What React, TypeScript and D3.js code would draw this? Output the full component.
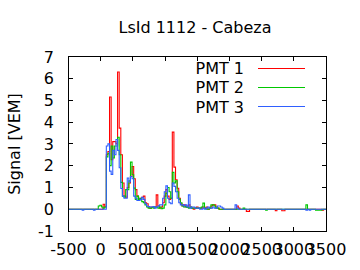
import React from "react";
import * as d3 from "d3";

// Time bins: 25 ns wide, centred on -500, -475, ..., 3500
const binStart = -500;
const binWidth = 25;

const xTicks = [-500, 0, 500, 1000, 1500, 2000, 2500, 3000, 3500];
const yTicks = [-1, 0, 1, 2, 3, 4, 5, 6, 7];

const seriesNames = ["PMT 1", "PMT 2", "PMT 3"];
const seriesColors = ["#ff0000", "#00c800", "#2f5fff"];

// PMT 1 (red), bins k = -20 .. 140
const pmt1 = [
  0, 0, 0, 0, 0, 0, 0, 0, 0, 0, 0, 0, 0, 0, 0, 0, 0, 0, 0, 0,
  0, 0, 0.23, 0.1, 2.5, 2.65, 5.15, 2.27, 3.1, 3.1, 3.0, 6.3, 3.72, 2.5, 1.2, 0.6, 0.55, 1.0, 1.2, 1.5,
  1.96, 1.4, 0.9, 0.6, 0.5, 0.45, 0.55, 0.6, 0.3, 0.25, 0.1, 0.05, 0.1, 0.1, 0.1, 0.66, 0.15, 0.05, 0.1, 0.3,
  0.6, 0.9, 0.6, 0.45, 0.5, 3.54, 1.93, 1.35, 0.96, 0.5, 0.25, 0.15, 0.2, 0.1, 0.15, 0.2, 0.1, 0.05, 0, 0.05,
  0.1, 0.05, 0.05, 0.05, 0.1, 0.05, 0.1, 0, 0.05, 0.15, 0.2, 0.2, 0.1, 0.05, 0, 0, 0, 0, 0, 0,
  0, 0, 0, 0, 0, 0.15, 0.05, 0, 0, 0, 0, -0.1, -0.1, 0, 0, 0, 0, 0, 0, 0,
  0, 0, 0, 0, 0, 0, 0, 0, 0, -0.07, 0, 0, 0, -0.07, -0.07, 0, 0, 0, 0, 0,
  0, 0, 0, 0, 0, 0, 0, 0, 0, 0, 0, 0, 0, 0, 0, 0, 0, 0, -0.05, 0, 0,
];

// PMT 2 (green)
const pmt2 = [
  0, 0, 0, 0, 0, 0, 0, 0, 0, 0, 0, 0, 0, 0, 0, 0, 0, 0, 0, 0.15,
  0.18, 0.1, 0.05, 0.1, 2.4, 2.57, 2.0, 2.9, 2.35, 2.9, 2.9, 3.3, 2.5, 1.23, 0.6, 0.55, 0.9, 0.9, 1.3, 2.16,
  1.58, 0.97, 0.45, 0.6, 0.45, 0.5, 0.35, 0.3, 0.2, 0.1, 0.05, 0.05, 0.08, 0.05, 0.1, 0.1, 0.05, 0.1, 0.02, 0.05,
  0.2, 0.74, 1.0, 0.8, 0.5, 1.69, 1.2, 1.3, 0.8, 0.45, 0.3, 0.15, 0.1, 0.12, 0.08, 0.05, 0.1, 0.05, 0.05, 0.05,
  0.05, 0.05, 0.05, 0.1, 0.28, 0.05, 0, 0, 0.05, 0.2, 0.2, 0.15, 0.05, 0.05, 0, 0, 0, 0, 0, 0,
  0, 0, 0, 0, 0, 0, 0, 0, 0, 0.05, 0, 0, 0, 0, 0, 0, 0, 0, 0, 0,
  0, 0, 0, -0.05, 0, 0, 0, 0, 0, 0, 0, 0, 0, 0, 0, 0, 0, 0, 0, 0,
  0, 0, 0, 0, 0, 0, 0, 0, 0.2, 0, 0, 0, 0, 0, -0.04, -0.04, -0.04, -0.04, 0, 0, 0,
];

// PMT 3 (blue)
const pmt3 = [
  0, 0, 0, 0, 0, 0, 0, 0, 0, -0.05, 0, 0, 0, 0, 0, 0, -0.05, 0, 0, 0,
  0, 0, 0, 0, 2.9, 3.0, 1.75, 1.6, 2.7, 2.5, 3.2, 2.7, 1.9, 0.95, 0.6, 0.5, 0.5, 1.43, 1.25, 1.5,
  1.4, 0.6, 0.5, 0.4, 0.4, 0.45, 0.55, 0.45, 0.25, 0.15, 0.12, 0.1, 0.1, 0.12, 0.05, 0.1, 0.15, 0.2, 0.2, 0.5,
  0.8, 1.07, 0.5, 0.3, 0.25, 1.2, 1.05, 0.8, 0.5, 0.3, 0.2, 0.2, 0.15, 0.2, 0.1, 0.66, 0.05, 0.1, 0.1, 0.05,
  0.05, 0.05, 0, 0, 0.05, 0, 0.05, 0.1, 0.05, 0.05, 0.1, 0.05, 0.05, 0.15, 0.15, 0.1, 0.05, 0, 0, 0,
  0, 0, 0, 0, 0.2, 0.05, 0, 0, 0, 0, 0, 0, 0, 0, 0, 0, 0, 0, 0, 0,
  0, 0, 0, 0, 0, 0, 0, 0, 0, 0, 0, 0, 0, 0, 0, 0, 0, 0, 0, 0,
  0, 0, 0, 0, 0, 0, 0, 0, -0.05, 0, -0.05, 0, 0, 0, 0, 0, 0, 0, 0, 0, 0,
];

const allSeries = [pmt1, pmt2, pmt3];

const W = 360;
const H = 270;
const left = 68.5;
const right = 326;
const top = 56.7;
const bottom = 231;
const font = "'DejaVu Sans', sans-serif";

export default function App() {
  const x = d3.scaleLinear().domain([-500, 3500]).range([left, right]);
  const y = d3.scaleLinear().domain([-1, 7]).range([bottom, top]);

  const line = d3
    .line<[number, number]>()
    .x((d) => x(d[0]))
    .y((d) => y(d[1]))
    .curve(d3.curveStep);

  const tl = 4;

  return (
    <svg
      width={W}
      height={H}
      style={{ position: "absolute", left: 0, top: 0, background: "#fff" }}
      fontFamily={font}
    >
      <rect x={0} y={0} width={W} height={H} fill="#fff" />
      <text x={195} y={33} fontSize={16} textAnchor="middle" fill="#000">
        LsId 1112 - Cabeza
      </text>
      <text
        transform={`translate(19.5,144) rotate(-90)`}
        fontSize={16}
        textAnchor="middle"
        fill="#000"
      >
        Signal [VEM]
      </text>

      {/* ticks */}
      {xTicks.map((t) => (
        <g key={"x" + t}>
          <line x1={x(t)} x2={x(t)} y1={bottom} y2={bottom - tl} stroke="#000" shapeRendering="crispEdges" />
          <line x1={x(t)} x2={x(t)} y1={top} y2={top + tl} stroke="#000" shapeRendering="crispEdges" />
          <text x={x(t)} y={255} fontSize={16} textAnchor="middle" fill="#000">
            {t}
          </text>
        </g>
      ))}
      {yTicks.map((t) => (
        <g key={"y" + t}>
          <line x1={left} x2={left + tl} y1={y(t)} y2={y(t)} stroke="#000" shapeRendering="crispEdges" />
          <line x1={right} x2={right - tl} y1={y(t)} y2={y(t)} stroke="#000" shapeRendering="crispEdges" />
          <text
            x={54}
            y={y(t) + 5.8}
            fontSize={16}
            textAnchor="end"
            fill="#000"
          >
            {t}
          </text>
        </g>
      ))}

      <g>
        {allSeries.map((s, i) => {
          const pts: [number, number][] = s.map((v, k) => [binStart + k * binWidth, v]);
          return (
            <path
              key={i}
              d={line(pts) || ""}
              fill="none"
              stroke={seriesColors[i]}
              strokeWidth={1.1}
            />
          );
        })}
      </g>

      {/* legend */}
      {seriesNames.map((n, i) => {
        const ly = 68.3 + i * 19.2;
        return (
          <g key={n}>
            <text x={244} y={ly + 5.8} fontSize={16} textAnchor="end" fill="#000">
              {n}
            </text>
            <line x1={258} x2={305} y1={ly} y2={ly} stroke={seriesColors[i]} strokeWidth={1} shapeRendering="crispEdges" />
          </g>
        );
      })}

      <rect
        x={left}
        y={top}
        width={right - left}
        height={bottom - top}
        fill="none"
        stroke="#000"
        strokeWidth={1}
        shapeRendering="crispEdges"
      />
    </svg>
  );
}
